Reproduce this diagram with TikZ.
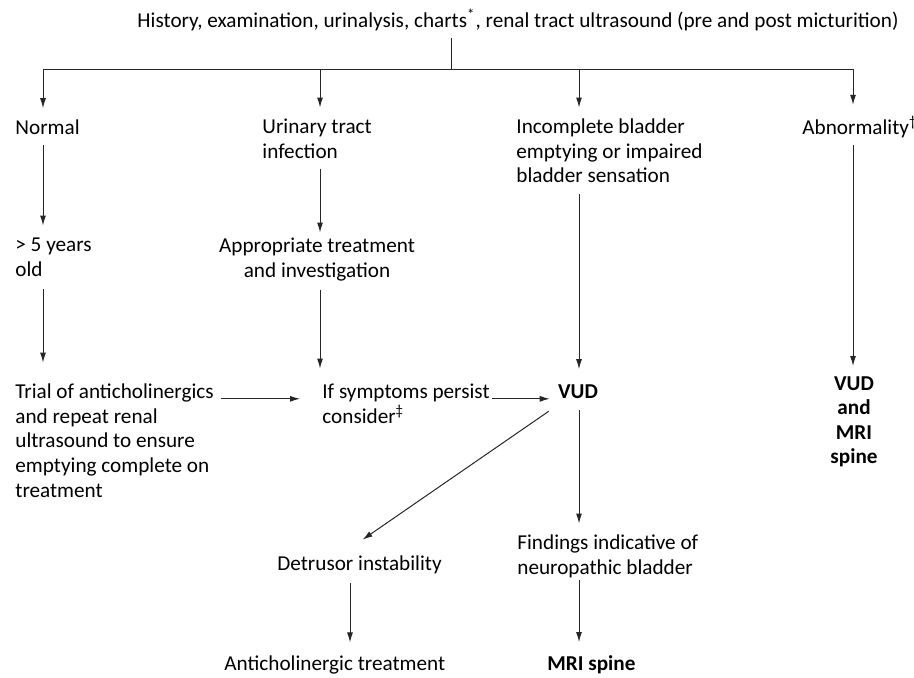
\documentclass[tikz,border=0pt]{standalone}
\usepackage{fontspec}
\setmainfont{Carlito}
\usetikzlibrary{arrows.meta,positioning,calc}

\begin{document}
\begin{tikzpicture}[
    x=0.5pt, y=-0.5pt,
    txt/.style={inner sep=0pt, align=left, font=\fontsize{10.6}{12.3}\selectfont},
    key/.style={inner sep=0pt, align=center, font=\fontsize{10.6}{12.3}\selectfont\bfseries},
    edge/.style={-{Latex[length=5pt,width=3pt]}, line width=0.5pt, draw=black!85},
    branch/.style={line width=0.5pt, draw=black!85},
]

\useasboundingbox (0,0) rectangle (914,677);

% Arrow columns
\coordinate (c1) at (43,69);
\coordinate (c2) at (320,69);
\coordinate (c3) at (579,69);
\coordinate (c4) at (853,69);
\coordinate (c5) at (350,69);
\coordinate (split) at (451,69);

% Assessment
\node[txt] (hist) at (518,20) {History, examination, urinalysis, charts\textsuperscript{*}, renal tract ultrasound (pre and post micturition)};

% First findings
\node[txt, anchor=west] (normal) at (15,127) {Normal};
\node[txt, anchor=north west] (uti) at (262,118.5) {Urinary tract\\infection};
\node[txt, anchor=north west] (incomp) at (516,118.5) {Incomplete bladder\\emptying or impaired\\bladder sensation};
\node[txt, anchor=west] (abn) at (802,127) {Abnormality\textsuperscript{\dag}};

% Second row
\node[txt, anchor=north west] (older) at (15,237.5) {> 5 years\\old};
\node[txt, anchor=north, align=center] (treat) at (317,237.5) {Appropriate treatment\\and investigation};

% Third row
\node[txt, anchor=north west] (trial) at (15,383.5) {Trial of anticholinergics\\and repeat renal\\ultrasound to ensure\\emptying complete on\\treatment};
\node[txt, anchor=north west] (persist) at (322,383.5) {If symptoms persist\\consider\textsuperscript{\ddag}};
\node[key] (vud) at (578,392) {VUD};
\node[key, anchor=north] (vudmri) at (854,376) {VUD\\and\\MRI\\spine};

% Urodynamic outcome
\node[txt, anchor=west] (detrusor) at (277,565) {Detrusor instability};
\node[txt, anchor=north west] (findings) at (517,534.5) {Findings indicative of\\neuropathic bladder};
\node[txt, anchor=west] (antichol) at (224,665) {Anticholinergic treatment};
\node[key, anchor=west] (mri) at (547,665) {MRI spine};

% Edges
\draw[branch, shorten <=3.5pt] (hist.south -| split) -- (split);
\draw[branch] (c1) -- (c4);
\foreach \c/\n in {c1/normal, c2/uti, c3/incomp, c4/abn}
  \draw[edge, shorten >=5.5pt] (\c) -- (\n.north -| \c);
\draw[edge, shorten <=5pt, shorten >=6pt] (normal.south -| c1) -- (older.north -| c1);
\draw[edge, shorten <=6pt, shorten >=10.5pt] (older.south -| c1) -- (trial.north -| c1);
\draw[edge, shorten <=5pt, shorten >=2.5pt] (uti.south -| c2) -- (treat.north -| c2);
\draw[edge, shorten <=4.3pt, shorten >=7.5pt] (treat.south -| c2) -- (persist.north -| c2);
\draw[edge, shorten <=5.5pt, shorten >=7.75pt] (incomp.south -| c3) -- (vud.north -| c3);
\draw[edge, shorten <=3.3pt, shorten >=5pt] (abn.south -| c4) -- (vudmri.north -| c4);
\draw[edge, shorten <=3.5pt, shorten >=11pt] (trial.north east |- vud.base) -- (persist.west |- vud.base);
\draw[edge, shorten <=1pt, shorten >=4pt] (persist.north east |- vud.base) -- (vud.base west);
\draw[edge, shorten <=10.5pt, shorten >=14pt] ([xshift=-6pt]vud.south) -- ([xshift=-10pt]detrusor.north);
\draw[edge, shorten <=5.5pt, shorten >=5.5pt] (vud.south -| c3) -- (findings.north -| c3);
\draw[edge, shorten <=4.3pt, shorten >=6.5pt] (detrusor.south -| c5) -- (antichol.north -| c5);
\draw[edge, shorten <=0.8pt, shorten >=6.75pt] (findings.south -| c3) -- (mri.north -| c3);

\end{tikzpicture}
\end{document}
